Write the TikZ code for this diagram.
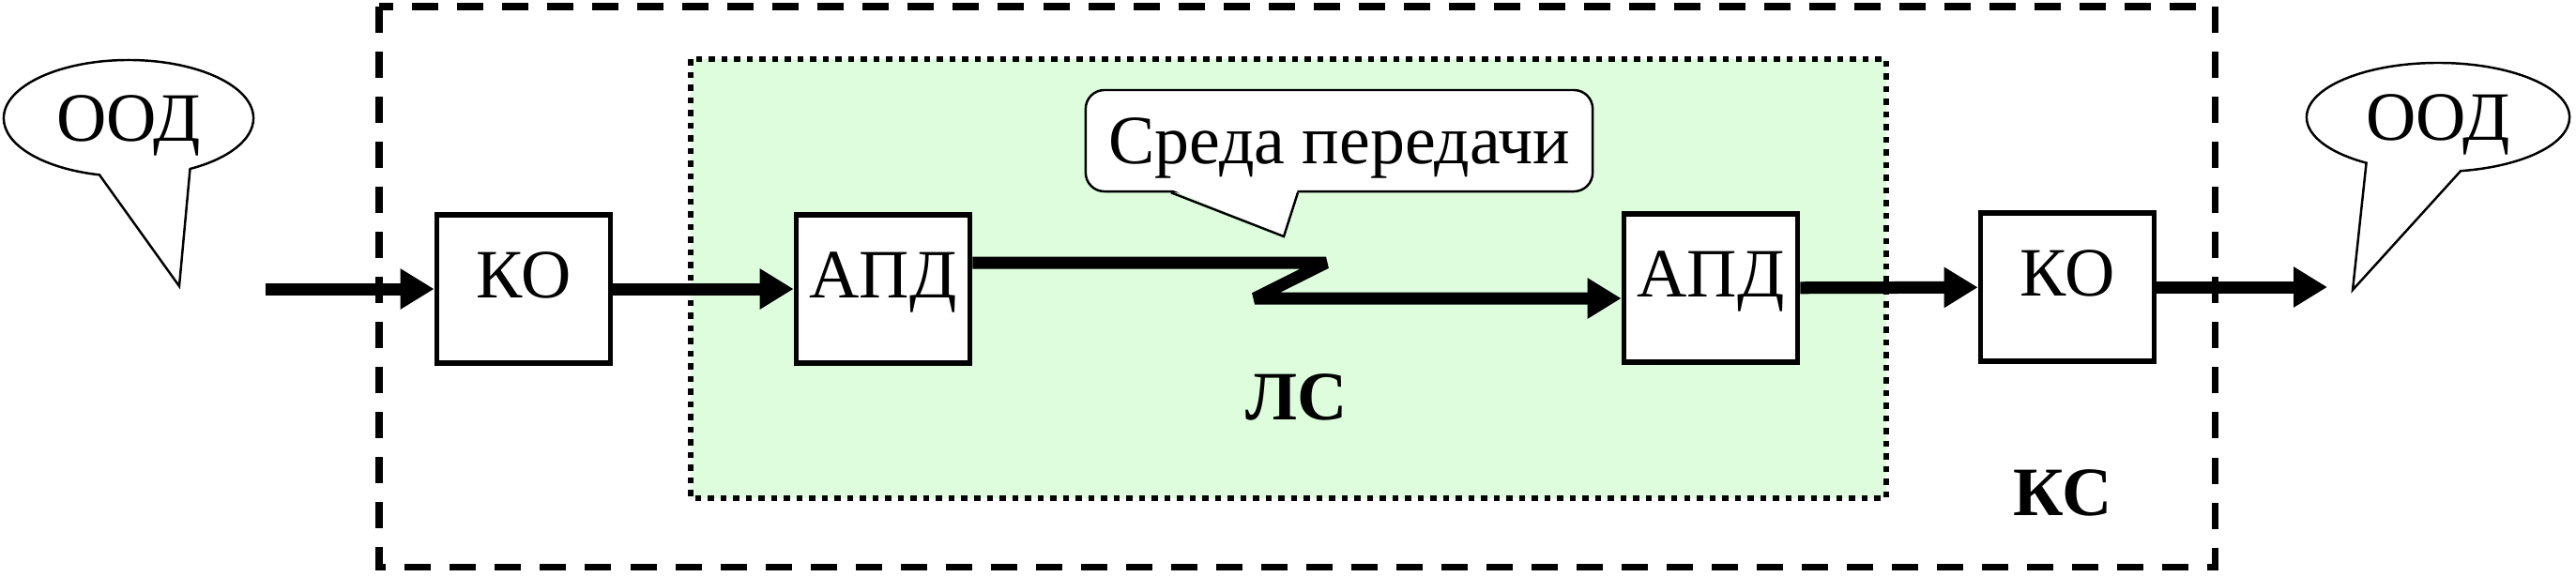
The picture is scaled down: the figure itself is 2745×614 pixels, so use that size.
\documentclass[tikz,border=0pt]{standalone}
\usepackage{fontspec}
\setmainfont{Liberation Serif}
\usetikzlibrary{arrows.meta,shapes.callouts}
\definecolor{lsgreen}{RGB}{221,253,221}
\tikzset{
  blok/.style={draw,line width=1.6pt,fill=white,minimum width=1.85cm,minimum height=1.58cm,inner sep=0pt,text height=0.49cm,text depth=0.31cm},
  strelka/.style={line width=3.7pt,-{Triangle[length=3.6mm,width=4.1mm]}},
  oblako/.style={ellipse callout,draw,line width=0.7pt,fill=white,inner sep=0pt,text depth=0pt,callout pointer arc=43},
  kanal/.style={line width=2pt,dash pattern=on 0.28cm off 0.20cm},
  linia/.style={fill=lsgreen,line width=1.85pt,dash pattern=on 0.065cm off 0.07cm},
  metka/.style={font=\fontsize{21}{25}\selectfont\bfseries}
}
\begin{document}
\begin{tikzpicture}[x=0.01cm,y=-0.01cm,font=\fontsize{21}{25}\selectfont]
\useasboundingbox (0,0) rectangle (2745,614);
\draw[kanal] (404,7) rectangle (2360,604);
\draw[linia] (736,63) rectangle (2010,531);

\node[blok] (KO1) at (558,308) {КО};
\node[blok] (APD1) at (941,308) {АПД};
\node[blok] (APD2) at (1823,307) {АПД};
\node[blok] (KO2) at (2203,306) {КО};

\node[metka] (LS) at (1382,423) {ЛС};
\node[metka] (KS) at (2198,525) {КС};

\coordinate (vhod) at (283,308);
\coordinate (vyhod) at (2480,306);
\coordinate (zz1) at (1413,280);
\coordinate (zz2) at (1337,318);
\draw[strelka] (vhod) -- (KO1);
\draw[strelka] (KO1) -- (APD1);
\draw[strelka,line join=bevel] (APD1.east |- zz1) -- (zz1) -- (zz2) -- (zz2 -| APD2.west);
\draw[strelka] (APD2) -- (KO2);
\draw[strelka] (KO2) -- (vyhod);

\node[oblako,minimum width=2.66cm,minimum height=1.24cm,callout absolute pointer={(191,305)}] (ood1) at (137,126) {ООД};
\node[oblako,minimum width=2.80cm,minimum height=1.16cm,callout absolute pointer={(2507,309)}] (ood2) at (2598,125) {ООД};

\node[draw,line width=0.7pt,fill=white,rounded corners=0.2cm,minimum width=5.4cm,minimum height=1.08cm,inner sep=0pt,text depth=0pt] (sreda) at (1427,150) {Среда передачи};
\coordinate (sredaTip) at (1368,252);
\fill[white] ([xshift=-17.9mm,yshift=1pt]sreda.south) -- (sredaTip) -- ([xshift=-4.4mm,yshift=1pt]sreda.south) -- cycle;
\draw[line width=0.7pt] ([xshift=-17.9mm]sreda.south) -- (sredaTip) -- ([xshift=-4.4mm]sreda.south);
\end{tikzpicture}
\end{document}
